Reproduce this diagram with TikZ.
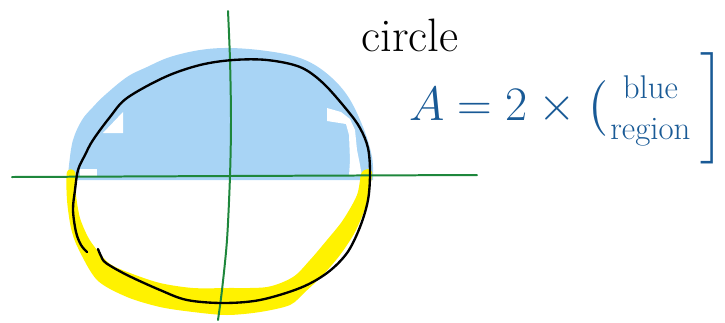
\documentclass[tikz,border=0pt]{standalone}
\usepackage{amsmath, amssymb}
\usepackage{graphicx}
\usepackage{xcolor}
\usepackage{tikz}
\usetikzlibrary{positioning}

\definecolor{bluefill}{RGB}{168,212,245}
\definecolor{yellowfill}{RGB}{255,242,0}
\definecolor{axisgreen}{RGB}{30,135,60}
\definecolor{inkblue}{RGB}{25,90,150}

\begin{document}
\begin{tikzpicture}[
x=0.03cm, y=-0.03cm,
axis/.style={draw=axisgreen, line width=1.7pt, line cap=round},
rim/.style={draw=black, line width=2pt, line cap=round, line join=round},
patch/.style={fill=white},
label/.style={font=\fontsize{40}{44}\selectfont, inner sep=0pt},
formula/.style={font=\fontsize{24}{28}\selectfont, text=inkblue, inner sep=0pt}
]
\useasboundingbox (0,0) rectangle (725,322);

% upper half, coloured blue
\fill[bluefill] plot[smooth, tension=0.6] coordinates {(68,180) (69,165) (73,140) (82,120) (93,107) (105,95) (127,77) (147,67) (170,57) (200,50) (230,48) (267,51) (300,58) (325,72) (347,95) (363,127) (372,157) (373,180)} -- cycle;
\fill[patch] (103,133) -- (123,112) -- (123,133) -- cycle;
\fill[patch] (327,108) -- (341,112) -- (350,119) -- (355,130) -- (357,150) -- (360,165) -- (362,176) -- (349,176) -- (350,160) -- (349,135) -- (346,124) -- (327,121) -- cycle;
\fill[patch] (80,169) rectangle (97,177);

% lower rim, coloured yellow
\fill[yellowfill] plot[smooth cycle, tension=0.5] coordinates {(67,172) (67,200) (71,228) (78,248) (97,280) (127,297) (160,307) (193,312) (227,315) (260,312) (290,305) (305,292) (322,276) (340,255) (355,232) (366,205) (372,172)
 (362,172) (357,195) (343,220) (327,240) (310,260) (293,277) (267,287) (227,288) (193,288) (160,283) (130,273) (110,264) (97,250) (88,237) (80,218) (76,195) (75,172)};

% axes
\coordinate (xleft) at (12,177);
\coordinate (xright) at (477,175);
\coordinate (ytop) at (228,11);
\coordinate (ybottom) at (218,320);
\draw[axis] (xleft) -- (230,176) -- (xright);
\draw[axis] plot[smooth] coordinates {(ytop) (230,60) (231,120) (230,176) (227,240) (222,290) (ybottom)};

% the circle
\draw[rim] plot[smooth, tension=0.55] coordinates {(87,252) (81,245) (76,232) (73,210) (75,190) (78,170) (85,155) (93,140) (110,117) (127,98) (165,77) (200,65) (233,60) (267,60) (300,67) (323,83) (347,110) (360,128) (368,148) (370,173) (368,200) (360,227) (347,253) (327,273) (300,288) (260,300) (223,303) (187,300) (160,290) (127,275) (106,263) (101,256) (98,249)};

% labels
\node[label] (circlelabel) at (410,35) {circle};
\node[formula, anchor=west] (area) at (409,108)
{\scalebox{1.65}{$A = 2\times \left(\vcenter{\hbox{\rule{0pt}{28pt}}}\right.\!\begin{array}{@{}c@{}}\text{\fontsize{17}{19}\selectfont blue}\\[-7pt]\text{\fontsize{17}{19}\selectfont region}\end{array}\left.\vcenter{\hbox{\rule{0pt}{60pt}}}\right]$}};

\end{tikzpicture}
\end{document}
